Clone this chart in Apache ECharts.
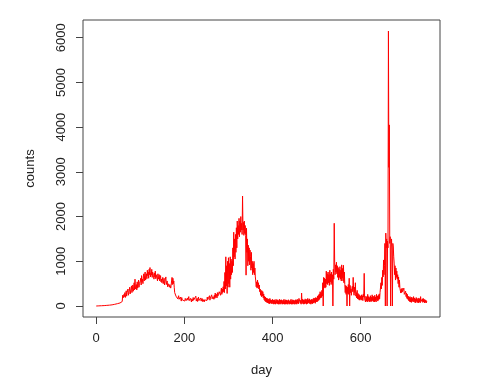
<!DOCTYPE html>
<html>
<head>
<meta charset="utf-8">
<script src="https://cdn.jsdelivr.net/npm/echarts@6/dist/echarts.min.js"></script>
<style>
  * { margin: 0; padding: 0; }
  html, body { width: 480px; height: 386px; background: #fff; }
  #chart { width: 480px; height: 386px; }
</style>
</head>
<body>
<div id="chart"></div>
<script>
// daily counts, one array per 100 days
const days0to99 = [
  0,2,1,3,2,4,3,5,4,6, 5,7,6,8,7,9,8,10,9,12, 10,13,12,15,14,16,15,18,17,20, 19,22,21,25,24,28,26,30,29,33, 35,40,38,45,42,50,48,55,52,60,
  58,65,62,70,68,80,75,90,85,100, 240,180,200,260,210,300,190,250,340,220, 300,260,380,240,290,330,420,270,310,380, 450,300,360,470,330,400,520,360,600,380, 420,480,360,540,400,450,580,420,500,470
];
const days100to199 = [
  560,620,470,680,540,600,500,650,720,560, 690,760,580,640,720,610,800,680,760,620, 820,700,860,650,740,690,820,640,760,720, 680,600,740,650,780,610,700,660,620,560, 720,600,650,700,560,620,680,540,600,520,
  580,640,500,560,620,470,540,600,650,480, 520,560,430,500,540,460,420,480,510,400, 460,560,640,480,620,500,560,420,300,260, 290,220,250,180,240,160,200,230,150,190, 130,200,160,110,190,140,120,170,110,150
];
const days200to299 = [
  150,110,170,200,120,140,90,180,130,160, 210,120,150,100,170,130,90,160,140,110, 190,130,100,160,120,150,220,110,140,170, 100,150,200,120,90,160,130,180,110,140, 170,100,150,120,190,90,140,160,110,130,
  160,120,200,140,100,170,150,230,130,180, 200,140,250,160,120,210,180,150,240,170, 290,190,230,260,180,300,220,260,200,320, 280,360,240,330,400,260,380,300,430,320, 550,300,750,380,1100,450,900,280,1000,420
];
const days300to399 = [
  1080,500,950,420,1100,600,1050,700,1000,750, 1300,900,1650,1100,1500,1050,1600,1200,1750,1300, 1900,1500,1800,1600,1960,1550,1900,1650,2000,1700, 1850,1600,2460,1700,1870,1580,1900,1620,1800,1580, 690,1740,1200,1500,900,1360,1000,1300,920,1250,
  1100,800,1200,850,1000,700,950,750,1000,700, 850,650,560,430,540,400,580,420,520,380, 470,320,380,240,350,210,340,220,320,180, 270,140,220,110,200,90,180,80,170,70, 160,60,150,50,170,70,140,50,130,60
];
const days400to499 = [
  150,50,130,40,140,50,120,40,150,60, 130,50,140,40,120,40,150,50,130,40, 140,60,120,40,130,50,150,40,120,40, 140,50,130,40,120,40,140,60,110,40, 130,50,150,40,120,40,140,50,130,40,
  120,40,140,50,130,40,150,60,140,50, 170,210,140,60,130,40,290,70,150,50, 140,40,130,50,160,60,140,40,150,50, 170,70,140,60,160,50,130,40,150,60, 140,50,160,70,180,80,170,60,190,90
];
const days500to599 = [
  180,90,220,110,240,130,270,150,320,180, 300,190,350,220,520,0,640,420,620,400, 600,420,780,500,720,480,760,520,700,460, 800,540,720,480,760,520,700,0,820,600, 1850,980,700,920,760,980,720,900,640,860,
  580,820,640,880,600,800,560,920,620,840, 560,910,520,760,480,300,460,260,440,0, 420,280,480,260,620,0,460,300,380,240, 380,440,320,640,360,240,420,300,520,220, 300,180,350,160,280,150,260,130,240,150
];
const days600to699 = [
  220,130,250,140,230,120,270,200,730,160, 190,90,220,110,200,90,260,120,210,100, 190,90,230,110,200,100,250,120,220,100, 210,90,240,110,200,90,260,130,220,110, 240,140,270,160,300,330,520,380,640,460,
  800,650,1030,700,900,1400,0,1630,1300,1500, 0,1450,1300,6150,3100,4050,1400,1550,0,1320, 1500,1250,0,1400,1320,1100,960,700,900,580, 850,640,780,600,700,500,650,420,580,400, 400,290,380,300,400,320,350,280,400,260
];
const days700to750 = [
  300,220,330,210,290,170,260,150,220,120, 200,100,210,90,180,80,200,110,170,90, 210,100,180,80,160,70,190,100,170,80, 150,70,180,90,160,70,210,100,140,70, 160,80,170,90,150,70,140,80,130,70,
  110
];

const xTicks = [0, 200, 400, 600];
const yTicks = [0, 1000, 2000, 3000, 4000, 5000, 6000];

const counts = [].concat(days0to99, days100to199, days200to299, days300to399,
  days400to499, days500to599, days600to699, days700to750);

const textColor = '#222';
const boxColor = '#444';
const font = 'Liberation Sans';

const chart = echarts.init(document.getElementById('chart'));
chart.setOption({
  animation: false,
  backgroundColor: '#fff',
  grid: {
    left: 83, right: 40, top: 20, bottom: 69,
    show: true,
    borderColor: boxColor,
    borderWidth: 1,
    backgroundColor: 'transparent'
  },
  xAxis: {
    type: 'value',
    min: -30,
    max: 780,
    name: 'day',
    nameLocation: 'middle',
    nameGap: 47,
    nameTextStyle: { color: textColor, fontSize: 13, fontFamily: font },
    axisLine: { show: false, onZero: false },
    splitLine: { show: false },
    axisTick: { show: true, customValues: xTicks, length: 7, lineStyle: { color: boxColor } },
    axisLabel: { customValues: xTicks, color: textColor, fontSize: 13, fontFamily: font, margin: 15,
      formatter: v => String(v) }
  },
  yAxis: {
    type: 'value',
    min: -246,
    max: 6396,
    name: 'counts',
    nameLocation: 'middle',
    nameGap: 46,
    nameTextStyle: { color: textColor, fontSize: 13, fontFamily: font },
    axisLine: { show: false, onZero: false },
    splitLine: { show: false },
    axisTick: { show: true, customValues: yTicks, length: 7, lineStyle: { color: boxColor } },
    axisLabel: { customValues: yTicks, rotate: 90, color: textColor, fontSize: 13, fontFamily: font, margin: 15,
      formatter: v => String(v) }
  },
  series: [
    {
      type: 'line',
      data: counts.map((v, i) => [i, v]),
      symbol: 'none',
      lineStyle: { color: '#ff0000', width: 1 }
    }
  ]
});
</script>
</body>
</html>
